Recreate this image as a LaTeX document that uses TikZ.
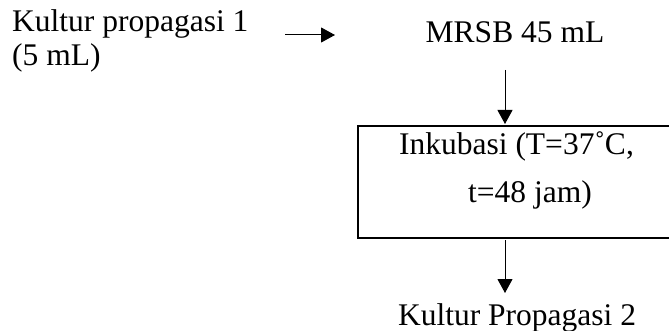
\documentclass[tikz,border=0pt]{standalone}
\usepackage{fontspec}
\setmainfont{Liberation Serif}
\usetikzlibrary{arrows.meta}
\begin{document}
\begin{tikzpicture}[x=1pt,y=-1pt,
  lbl/.style={inner sep=0pt,font=\fontsize{31.5}{37}\selectfont},
  flow/.style={line width=1pt,-{Triangle[length=14pt,width=15pt]}},
  procbox/.style={draw,line width=2pt}]
\clip (0,0) rectangle (669,331);
\useasboundingbox (0,0) rectangle (669,331);
\node[lbl,anchor=base west] (k1) at (12,32) {Kultur propagasi 1};
\node[lbl,anchor=base west] (k1b) at (12,66) {(5 mL)};
\node[lbl,anchor=base] (mrsb) at (515,43) {MRSB 45 mL};
\node[procbox,minimum width=0pt,anchor=north west,inner sep=0pt] (box) at (357,125) {\rule{0pt}{112pt}\rule{323pt}{0pt}};
\node[lbl,anchor=base] (ink1) at (516.5,155) {Inkubasi (T=37˚C,};
\node[lbl,anchor=base] (ink2) at (530,203) {t=48 jam)};
\node[lbl,anchor=base] (k2) at (517,325.5) {Kultur Propagasi 2};
\coordinate (a1s) at (285,35);
\coordinate (a1e) at (335,35);
\coordinate (a2s) at (505,70);
\coordinate (a2e) at (505,124);
\coordinate (a3s) at (505,240);
\coordinate (a3e) at (505,293);
\draw[flow] (a1s) -- (a1e);
\draw[flow] (a2s) -- (a2e);
\draw[flow] (a3s) -- (a3e);
\end{tikzpicture}
\end{document}
